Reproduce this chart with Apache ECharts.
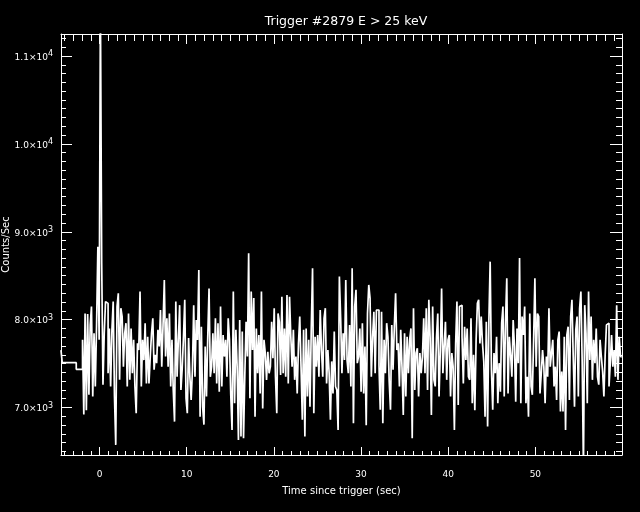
<!DOCTYPE html>
<html><head><meta charset="utf-8">
<script src="https://cdn.jsdelivr.net/npm/echarts@6/dist/echarts.min.js"></script>
<style>html,body{margin:0;padding:0;background:#000}#c{width:640px;height:512px}</style>
</head><body><div id="c"></div>
<script>
const titleText = 'Trigger #2879 E > 25 keV';
const xAxisName = 'Time since trigger (sec)';
const yAxisName = 'Counts/Sec';
const xMin = -4.42, xMax = 59.94;
const yMin = 6460, yMax = 11250;
const xTicks = [0, 10, 20, 30, 40, 50];
const yTicks = [7000, 8000, 9000, 10000, 11000];
const yMantissa = ['7.0×10', '8.0×10', '9.0×10', '1.0×10', '1.1×10'];
const yExponent = ['3', '3', '3', '4', '4'];

// pre-trigger coarse bins (start times and rates)
const preStart = [-4.42, -4.28, -2.67];
const preRate = [7654, 7510, 7435];
// fine bins
const fineStart = -1.95;
const fineWidth = 0.1466;
const countsA = [
7770, 6920, 8070, 6970, 8065, 7145, 7940, 8150, 7125, 7845,
7240, 7940, 8830, 7770, 11600, 8640, 7260, 7845, 8205, 8185,
7390, 7900, 7240, 7885, 8205, 7125, 6575, 8150, 8300, 7315,
8130, 8035, 7465, 7845, 7960, 7240, 8070, 7315, 7900, 7390,
7770, 7240, 6935, 7730, 7655, 8320, 7240, 7770, 7540, 7960,
7275, 7805, 7275, 7580, 7845, 8015, 7430, 7600, 7505, 7885,
7695, 8110, 7465, 7940, 8450, 7580, 8015, 7465, 8070, 7240,
7770, 7200, 6840, 8205, 7350, 7770, 8165, 7200, 7445, 7805,
8225, 7105, 6935, 7790, 7350, 7085, 7430, 8165, 7350, 7995,
7770, 8565, 6895, 7920, 7010, 6805, 7695, 7125, 7805, 8355,
7350, 7465];
const countsB = [
7845, 7390, 8015, 7275, 7960, 7180, 8150, 7240, 7825, 7580,
7770, 7350, 8015, 7770, 7145, 6745, 8320, 7050, 7885, 7465,
6630, 7995, 6670, 7865, 6650, 7370, 7975, 7580, 8755, 7105,
8320, 7655, 8245, 6895, 7900, 7390, 7825, 7160, 8320, 6990,
7770, 7620, 7315, 7635, 7390, 7465, 7975, 7560, 8130, 7350,
6935, 8070, 7975, 7370, 8260, 7390, 7900, 7350, 8280, 7275,
8260, 7805, 7465, 7885, 7315, 7580, 7160, 7730, 8035, 7465,
6860, 7885, 6670, 7900, 7125, 7770, 7010, 7900, 8585, 6935,
7805, 7465, 7825, 7350, 8110, 7655, 7350, 8015, 8130, 7275,
7655, 7390, 6860, 7525, 7160, 7865, 7240, 7200, 6745, 8490,
8015, 7390, 7845, 7540, 8450, 7540];
const countsC = [
7390, 7940, 7240, 8585, 6820, 8150, 8340, 7505, 7580, 7900,
7180, 7960, 7160, 7695, 6800, 8070, 8395, 8245, 7350, 7805,
8090, 7390, 8110, 8110, 7485, 6975, 8090, 6820, 7770, 7390,
7960, 7805, 7295, 6975, 7940, 7430, 7920, 8300, 7655, 7730,
7240, 7885, 7465, 6915, 7845, 7125, 7805, 7390, 7770, 7900,
6650, 8130, 7200, 7620, 7675, 7125, 7620, 7390, 7580, 8015,
7390, 8130, 7200, 8225, 7805, 6915, 8150, 7315, 7240, 7805,
8070, 7125, 7655, 8355, 7390, 7695, 7975, 7315, 7770, 7825,
7125, 7620, 7465, 6745, 7730, 8205, 7030, 8150, 8165, 7805,
7275, 7920, 7540, 7900, 7350, 7315, 8015, 7050, 7600, 6970,
7770, 8185, 8225, 7730, 8035];
const countsD = [
7730, 7525, 6895, 7975, 6785, 7995, 8660, 7430, 6975, 7620,
7390, 7805, 7050, 7505, 7180, 7960, 8150, 7125, 7975, 8470,
7160, 7805, 7600, 7350, 7995, 7695, 7065, 7900, 7505, 8700,
7050, 8035, 7825, 8150, 7050, 7350, 6895, 8070, 7240, 7145,
7770, 8470, 7465, 8070, 8035, 7160, 7390, 7655, 7465, 7050,
7580, 7350, 8130, 7465, 7620, 7770, 7240, 7465, 7085, 7770,
7865, 6955, 7410, 6955, 7805, 6745, 7825, 7920, 7085, 8035,
8225, 7580, 7010, 7885, 8035, 7125, 8130, 8320, 7525, 6300,
8165, 7845, 7050, 8320, 7540, 8035, 7315, 7770, 7505, 7900,
7350, 7260, 7770, 7580, 7410, 7125, 7600, 7940, 7960, 7240,
7505, 7825, 7465, 7655, 7350, 8165, 7315, 7805, 7580];

const fineRates = countsA.concat(countsB, countsC, countsD);
const pts = [];
for (let i = 0; i < preStart.length; i++) pts.push([preStart[i], preRate[i]]);
for (let i = 0; i < fineRates.length; i++) pts.push([fineStart + i * fineWidth, fineRates[i]]);
pts.push([fineStart + fineRates.length * fineWidth, fineRates[fineRates.length - 1]]);

const xMinorTicks = [];
for (let t = -4; t <= 59; t++) if (t % 10 !== 0) xMinorTicks.push(t);
const yMinorTicks = [];
for (let v = 6500; v <= 11200; v += 100) if (v % 1000 !== 0) yMinorTicks.push(v);

const FONT = 'DejaVu Sans';
const W = '#ffffff';

function xAx(position, ticks, len, line, label) {
  const a = {
    type: 'value', min: xMin, max: xMax, position: position,
    axisLine: { show: line, onZero: false, lineStyle: { color: W, width: 1 } },
    axisTick: { show: true, inside: true, length: len, customValues: ticks, lineStyle: { color: W, width: 1 } },
    axisLabel: { show: label, customValues: ticks, color: W, fontSize: 9, fontFamily: FONT, margin: 15 },
    splitLine: { show: false }
  };
  if (label) {
    a.name = xAxisName; a.nameLocation = 'middle'; a.nameGap = 31; a.nameMoveOverlap = false;
    a.nameTextStyle = { color: W, fontSize: 10, fontFamily: FONT };
  }
  return a;
}
function yAx(position, ticks, len, line, label) {
  const a = {
    type: 'value', min: yMin, max: yMax, position: position,
    axisLine: { show: line, onZero: false, lineStyle: { color: W, width: 1 } },
    axisTick: { show: true, inside: true, length: len, customValues: ticks, lineStyle: { color: W, width: 1 } },
    axisLabel: {
      show: label, customValues: ticks, margin: 8,
      formatter: function (v) {
        const i = yTicks.indexOf(v);
        return '{m|' + yMantissa[i] + '}{s|' + yExponent[i] + '}';
      },
      rich: {
        m: { color: W, fontSize: 9, fontFamily: FONT, lineHeight: 12, verticalAlign: 'bottom' },
        s: { color: W, fontSize: 8, fontFamily: FONT, lineHeight: 12, verticalAlign: 'top', padding: [0, 0, 5, 0] }
      }
    },
    splitLine: { show: false }
  };
  if (label) {
    a.name = yAxisName; a.nameLocation = 'middle'; a.nameGap = 50; a.nameMoveOverlap = false;
    a.nameTextStyle = { color: W, fontSize: 10, fontFamily: FONT };
  }
  return a;
}

const chart = echarts.init(document.getElementById('c'), null, { renderer: 'canvas' });
chart.setOption({
  backgroundColor: '#000',
  animation: false,
  title: { text: titleText, left: 341, textAlign: 'center', top: 10,
    textStyle: { color: W, fontSize: 12.5, fontWeight: 'normal', fontFamily: FONT } },
  grid: { left: 61, right: 18, top: 34, bottom: 57, containLabel: false, outerBoundsMode: 'none' },
  xAxis: [
    xAx('bottom', xTicks, 8, true, true),
    xAx('bottom', xMinorTicks, 4, false, false),
    xAx('top', xTicks, 10, true, false),
    xAx('top', xMinorTicks, 7, false, false)
  ],
  yAxis: [
    yAx('left', yTicks, 11, true, true),
    yAx('left', yMinorTicks, 5, false, false),
    yAx('right', yTicks, 12, true, false),
    yAx('right', yMinorTicks, 6, false, false)
  ],
  series: [{
    type: 'line', xAxisIndex: 0, yAxisIndex: 0, step: 'end',
    data: pts, showSymbol: false, symbol: 'none', clip: true,
    lineStyle: { color: W, width: 1.7 }
  }]
});
</script></body></html>
